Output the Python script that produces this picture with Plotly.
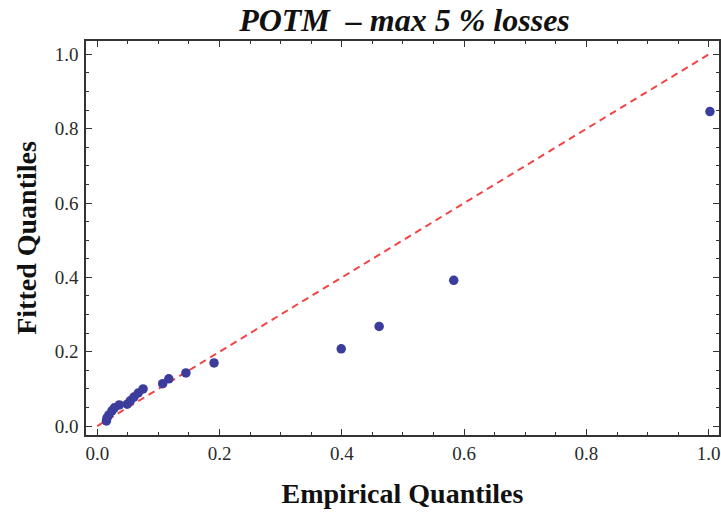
import plotly.graph_objects as go

# Empirical vs fitted quantiles
empirical = [0.015, 0.016, 0.019, 0.024, 0.028, 0.036, 0.049, 0.054, 0.060, 0.067, 0.075,
             0.107, 0.117, 0.145, 0.191, 0.399, 0.461, 0.583, 1.002]
fitted = [0.014, 0.022, 0.030, 0.041, 0.049, 0.057, 0.059, 0.068, 0.078, 0.089, 0.100,
          0.114, 0.127, 0.143, 0.170, 0.208, 0.268, 0.392, 0.846]
ref_line = [0.0, 1.0]

x_ticks = [0.0, 0.2, 0.4, 0.6, 0.8, 1.0]
y_ticks = [0.0, 0.2, 0.4, 0.6, 0.8, 1.0]
tick_text = ["0.0", "0.2", "0.4", "0.6", "0.8", "1.0"]

title_text = "<b><i>POTM  – max 5 % losses</i></b>"
x_title = "<b>Empirical Quantiles</b>"
y_title = "<b>Fitted Quantiles</b>"

fig = go.Figure()
fig.add_trace(go.Scatter(
    x=ref_line, y=ref_line, mode="lines",
    line=dict(color="#f24444", width=2, dash="7px,5px"),
    showlegend=False, hoverinfo="skip"))
fig.add_trace(go.Scatter(
    x=empirical, y=fitted, mode="markers",
    marker=dict(color="#3c3c9c", size=9.5, line=dict(width=0)),
    showlegend=False))

serif = "Liberation Serif, Times New Roman, serif"
axis_common = dict(
    showline=True, linecolor="#333333", linewidth=1.5, mirror="allticks",
    ticks="inside", ticklen=6, tickwidth=1.2, tickcolor="#333333",
    showgrid=False, zeroline=False,
    minor=dict(ticks="inside", ticklen=3.5, tickwidth=1.1, tickcolor="#333333", dtick=0.05, showgrid=False),
    tickfont=dict(family=serif, size=19, color="#2a2a2a"),
)

fig.update_layout(
    width=721, height=512,
    margin=dict(l=86, r=0, t=41, b=77),
    paper_bgcolor="white", plot_bgcolor="white",
    title=dict(text=title_text, x=0.561, xanchor="center", y=0.962, yanchor="middle",
               font=dict(family=serif, size=32, color="#111111")),
    xaxis=dict(range=[-0.0184, 1.0168], tickvals=x_ticks, ticktext=tick_text,
               ticklabelstandoff=0,
               title=dict(text=x_title, font=dict(family=serif, size=28, color="#111111"), standoff=21),
               **axis_common),
    yaxis=dict(range=[-0.024, 1.036], tickvals=y_ticks, ticktext=tick_text,
               ticklabelstandoff=2,
               title=dict(text=y_title, font=dict(family=serif, size=28, color="#111111"), standoff=10),
               **axis_common),
)

fig.write_html("out.html")
